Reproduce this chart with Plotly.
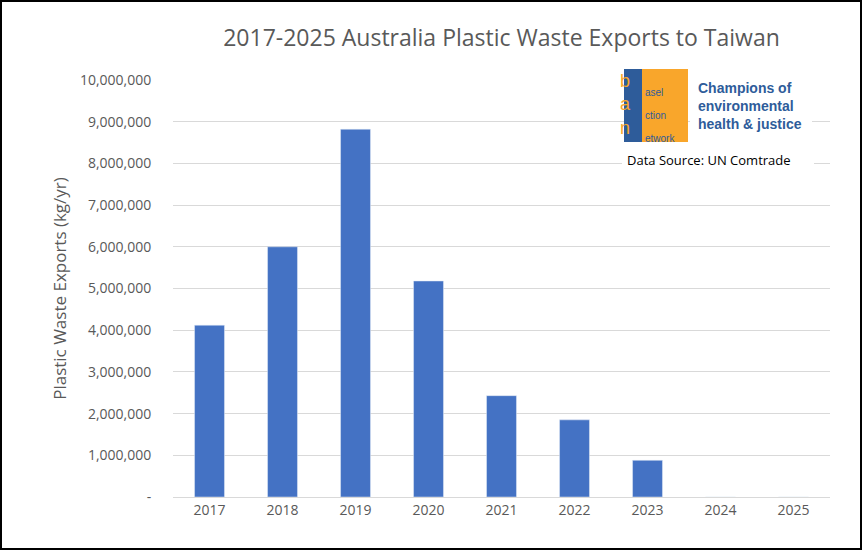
import plotly.graph_objects as go

years = ["2017", "2018", "2019", "2020", "2021", "2022", "2023", "2024", "2025"]
exports_kg = [4120000, 6000000, 8820000, 5180000, 2430000, 1850000, 880000, 0, 0]
ytick_vals = [i * 1000000 for i in range(11)]
ytick_text = ["-"] + [f"{v:,}" for v in ytick_vals[1:]]

W, H = 862, 550
L, R, T, B = 173, 32, 80, 53
PW, PH = W - L - R, H - T - B


def px(x):
    return (x - L) / PW


def py(y):
    return (H - B - y) / PH


FONT = "Open Sans, Liberation Sans, sans-serif"

fig = go.Figure(go.Bar(
    x=years, y=exports_kg, marker_color="#4472C4", width=0.41, hoverinfo="x+y",
))

shapes = [
    # outer border
    dict(type="rect", xref="paper", yref="paper", x0=px(1), x1=px(W - 1), y0=py(H - 1), y1=py(1),
         line=dict(color="black", width=2), layer="above"),
    # BAN logo
    dict(type="rect", xref="paper", yref="paper", x0=px(624), x1=px(642), y0=py(142), y1=py(69),
         fillcolor="#2E5C9A", line_width=0, layer="above"),
    dict(type="rect", xref="paper", yref="paper", x0=px(642), x1=px(688), y0=py(142), y1=py(69),
         fillcolor="#F9A62B", line_width=0, layer="above"),
    dict(type="rect", xref="paper", yref="paper", x0=px(690), x1=px(812), y0=py(136), y1=py(76),
         fillcolor="white", line_width=0, layer="above"),
    dict(type="rect", xref="paper", yref="paper", x0=px(622), x1=px(814), y0=py(171), y1=py(150),
         fillcolor="white", line_width=0, layer="above"),
]

annotations = [dict(xref="paper", yref="paper", x=px(633), y=py(105), yanchor="middle", text="b<br>a<br>n",
                    showarrow=False, font=dict(family="Liberation Sans", size=18, color="#F9A62B"))]
for small, ys in [("asel", 92), ("ction", 115), ("etwork", 138)]:
    annotations.append(dict(xref="paper", yref="paper", x=px(643), y=py(ys), yanchor="middle", text=small,
                            showarrow=False, xanchor="left",
                            font=dict(family="Liberation Sans", size=10, color="#2E5C9A")))
annotations.append(dict(xref="paper", yref="paper", x=px(696), y=py(106), yanchor="middle",
                        text="<b>Champions of<br>environmental<br>health &amp; justice</b>", showarrow=False,
                        xanchor="left", align="left",
                        font=dict(family="Liberation Sans", size=14, color="#2E5C9A")))
annotations.append(dict(xref="paper", yref="paper", x=px(625), y=py(160), yanchor="middle",
                        text="Data Source: UN Comtrade",
                        showarrow=False, xanchor="left", font=dict(family=FONT, size=13, color="black")))

fig.update_layout(
    width=W, height=H,
    margin=dict(l=L, r=R, t=T, b=B),
    plot_bgcolor="white", paper_bgcolor="white",
    title=dict(text="2017-2025 Australia Plastic Waste Exports to Taiwan", x=0.5, xref="paper",
               y=1 - 38 / H, yanchor="middle",
               font=dict(family=FONT, size=23, color="#595959")),
    font=dict(family=FONT, color="#595959"),
    showlegend=False,
    shapes=shapes,
    annotations=annotations,
)
fig.update_xaxes(showgrid=False, showline=True, linecolor="#D9D9D9", tickfont=dict(size=14), ticks="")
fig.update_yaxes(range=[0, 10000000], tickvals=ytick_vals, ticktext=ytick_text, gridcolor="#D9D9D9",
                 zeroline=False, tickfont=dict(size=14), ticklen=18, ticks="outside", tickcolor="white",
                 title=dict(text="Plastic Waste Exports (kg/yr)", font=dict(size=17, color="#595959"), standoff=8))

fig.write_html("out.html", config={"displayModeBar": False},
               post_script="document.body.style.margin='0';")
